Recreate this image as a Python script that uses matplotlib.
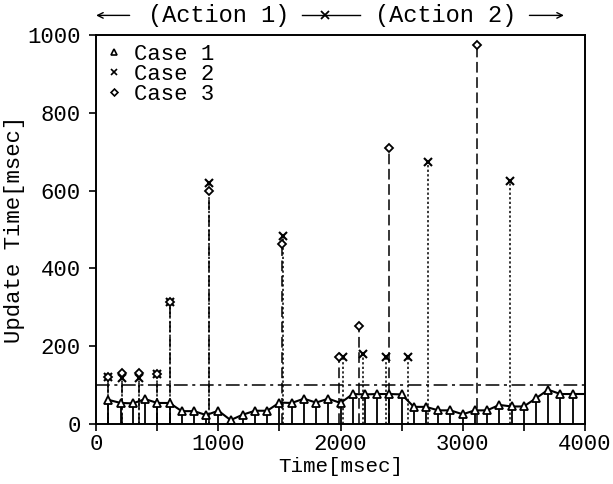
import numpy as np
import matplotlib
matplotlib.use("Agg")
import matplotlib.pyplot as plt
from matplotlib.lines import Line2D

plt.rcParams["font.family"] = ["Liberation Mono", "DejaVu Sans Mono"]

# Case 1: periodic updates every 100 msec
case1_t = [100, 200, 300, 400, 500, 600, 700, 800, 900, 1000,
           1100, 1200, 1300, 1400, 1500, 1600, 1700, 1800, 1900, 2000,
           2100, 2200, 2300, 2400, 2500, 2600, 2700, 2800, 2900, 3000,
           3100, 3200, 3300, 3400, 3500, 3600, 3700, 3800, 3900]
case1_v = [62, 54, 53, 64, 54, 54, 33, 33, 23, 34,
           10, 24, 34, 34, 55, 54, 65, 55, 65, 54,
           77, 76, 77, 77, 76, 44, 44, 35, 35, 25,
           35, 35, 49, 45, 45, 66, 88, 77, 77]
# line carries on flat to the right edge
case1_tail_t = [3900, 4000]
case1_tail_v = [77, 77]

case2_t = [100, 210, 350, 500, 600, 925, 1530, 2020, 2180, 2370, 2550, 2720, 3390]
case2_v = [120, 118, 118, 128, 313, 620, 482, 173, 180, 173, 173, 672, 625]

case3_t = [100, 210, 350, 500, 600, 925, 1520, 1990, 2150, 2395, 3115]
case3_v = [120, 130, 130, 128, 313, 600, 462, 173, 253, 710, 975]

threshold = 100

fig = plt.figure(figsize=(6.13, 4.84), dpi=100)
ax = fig.add_axes([0.157, 0.124, 0.797, 0.804])

# stems
ax.vlines(case3_t, 0, case3_v, colors="k", linestyles=(0, (7, 3)), lw=1.1)
ax.vlines(case2_t, 0, case2_v, colors="k", linestyles=(0, (1.5, 1.5)), lw=1.1)
ax.vlines(case1_t, 0, case1_v, colors="k", lw=1.3)

ax.axhline(threshold, color="k", lw=1.1, ls=(0, (9, 3, 2, 3)))

ax.plot(case1_tail_t, case1_tail_v, color="k", lw=1.5)
ax.plot(case1_t, case1_v, color="k", lw=1.5, marker="^", ms=6,
        mfc="white", mec="k", mew=1.3)
ax.plot(case2_t, case2_v, ls="none", marker="x", ms=6, mec="k", mew=1.5)
ax.plot(case3_t, case3_v, ls="none", marker="D", ms=4.5, mfc="white",
        mec="k", mew=1.3)

ax.set_xlim(0, 4000)
ax.set_ylim(0, 1000)
ax.set_xticks(np.arange(0, 4001, 500))
ax.set_xticklabels(["0", "", "1000", "", "2000", "", "3000", "", "4000"])
ax.set_yticks(np.arange(0, 1001, 200))
ax.tick_params(direction="out", length=5, width=1.2, labelsize=16)
ax.tick_params(axis="y", pad=6)
ax.tick_params(axis="x", pad=2)
for s in ax.spines.values():
    s.set_linewidth(1.4)

ax.set_xlabel("Time[msec]", fontsize=15, labelpad=2)
ax.set_ylabel("Update Time[msec]", fontsize=16, labelpad=2)

handles = [
    Line2D([], [], ls="none", marker="^", ms=4.5, mfc="white", mec="k", mew=1.2),
    Line2D([], [], ls="none", marker="x", ms=4.5, mec="k", mew=1.2),
    Line2D([], [], ls="none", marker="D", ms=3.5, mfc="white", mec="k", mew=1.2),
]
ax.legend(handles, ["Case 1", "Case 2", "Case 3"], loc="upper left",
          frameon=False, fontsize=16, handlelength=0.8, handletextpad=0.5,
          labelspacing=-0.05, borderaxespad=0.1, borderpad=0.3)

# action annotation above the plot
ty = 1.05
ax.text(0.25, ty, "(Action 1)", transform=ax.transAxes, ha="center", va="center",
        fontsize=17, clip_on=False)
ax.text(0.715, ty, "(Action 2)", transform=ax.transAxes, ha="center", va="center",
        fontsize=17, clip_on=False)
arrow_kw = dict(arrowstyle="->", color="k", lw=1.0)
ax.annotate("", xy=(-0.006, ty), xytext=(0.074, ty), xycoords="axes fraction",
            arrowprops=arrow_kw, annotation_clip=False)
ax.annotate("", xy=(0.963, ty), xytext=(0.881, ty), xycoords="axes fraction",
            arrowprops=arrow_kw, annotation_clip=False)
ax.plot([0.421, 0.540], [ty, ty], transform=ax.transAxes, color="k", lw=1.0,
        clip_on=False)
ax.plot([0.468], [ty], transform=ax.transAxes, color="k", marker="x", ms=6,
        mew=1.3, clip_on=False)

fig.savefig("out.png", dpi=100)
